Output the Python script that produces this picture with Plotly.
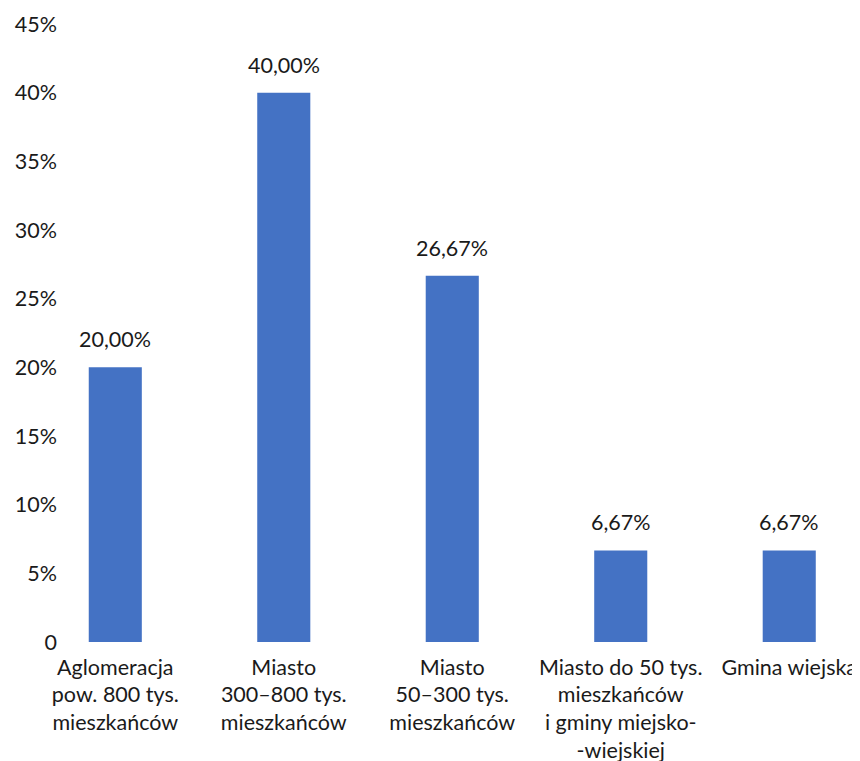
import plotly.graph_objects as go

categories = [
    "Aglomeracja<br>pow. 800 tys.<br>mieszkańców",
    "Miasto<br>300–800 tys.<br>mieszkańców",
    "Miasto<br>50–300 tys.<br>mieszkańców",
    "Miasto do 50 tys.<br>mieszkańców<br>i gminy miejsko-<br>-wiejskiej",
    "Gmina wiejska",
]
values = [20.00, 40.00, 26.67, 6.67, 6.67]
value_labels = ["20,00%", "40,00%", "26,67%", "6,67%", "6,67%"]
tick_vals = [0, 5, 10, 15, 20, 25, 30, 35, 40, 45]
tick_text = ["0", "5%", "10%", "15%", "20%", "25%", "30%", "35%", "40%", "45%"]

FONT = "Lato"
FS = 21.5
fig = go.Figure()
fig.add_trace(go.Bar(
    x=list(range(len(categories))), y=values,
    marker=dict(color="#4472C4", line=dict(width=0)),
    width=0.315,
))
for i, (v, t) in enumerate(zip(values, value_labels)):
    fig.add_annotation(x=i, y=v, text=t, showarrow=False, yshift=28,
                       font=dict(family=FONT, size=FS, color="#1a1a1a"))

fig.update_layout(
    width=852, height=753,
    margin=dict(l=50, r=0, t=16, b=119),
    paper_bgcolor="white", plot_bgcolor="white",
    showlegend=False,
    font=dict(family=FONT, size=FS, color="#1a1a1a"),
    xaxis=dict(range=[-0.34, 4.42], tickmode="array",
               tickvals=list(range(len(categories))), ticktext=categories,
               showgrid=False, zeroline=False, showline=False, ticks="",
               ticklabelstandoff=10, tickangle=0, automargin=False,
               ticklabeloverflow="allow",
               tickfont=dict(family=FONT, size=FS, color="#1a1a1a")),
    yaxis=dict(range=[0, 45.0], tickmode="array", tickvals=tick_vals,
               ticktext=tick_text, showgrid=False, zeroline=False,
               showline=False, ticks="", ticklabelstandoff=0, automargin=False,
               ticklabeloverflow="allow",
               tickfont=dict(family=FONT, size=FS, color="#1a1a1a")),
)
fig.write_html("out.html")
